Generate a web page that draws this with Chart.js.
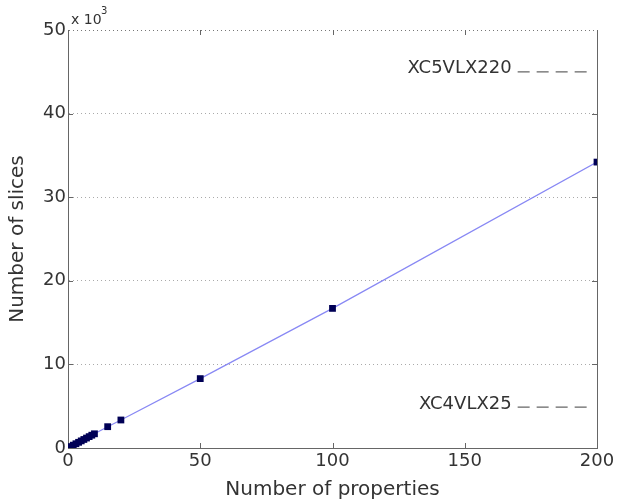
<!DOCTYPE html>
<html>
<head>
<meta charset="utf-8">
<script src="https://cdn.jsdelivr.net/npm/chart.js@4"></script>
<style>
  html, body { margin: 0; padding: 0; background: #fff; }
  #box { width: 618px; height: 502px; }
</style>
</head>
<body>
<div id="box"><canvas id="context"></canvas></div>
<script>
// values (slices in thousands)
const properties = [1, 2, 3, 4, 5, 6, 7, 8, 9, 10, 15, 20, 50, 100, 200];
const slices = [0.17, 0.34, 0.51, 0.68, 0.85, 1.02, 1.19, 1.36, 1.53, 1.70, 2.55, 3.35, 8.3, 16.7, 34.2];

const xTicks = [0, 50, 100, 150, 200];
const yTicks = [0, 10, 20, 30, 40, 50];

// device limits drawn as short dashed markers
const deviceNames = ['XC5VLX220', 'XC4VLX25'];
const deviceSlices = [45.0, 4.9];
const dashFrom = 170, dashTo = 197;

const font = "'DejaVu Sans', sans-serif";
const axisColor = '#666';
const textColor = '#333';

const datasets = [{
  data: properties.map((p, i) => ({x: p, y: slices[i]})),
  showLine: true,
  borderColor: '#8888f4',
  borderWidth: 1.2,
  pointStyle: 'rect',
  pointRadius: 4.8,
  pointBackgroundColor: '#000055',
  pointBorderColor: '#000055',
  pointBorderWidth: 0
}];
for (let i = 0; i < deviceNames.length; i++) {
  datasets.push({
    data: [{x: dashFrom, y: deviceSlices[i]}, {x: dashTo, y: deviceSlices[i]}],
    showLine: true,
    borderColor: '#666',
    borderWidth: 1.3,
    borderDash: [12, 7],
    pointRadius: 0
  });
}

const extras = {
  id: 'extras',
  afterDraw(chart) {
    const c = chart.ctx, a = chart.chartArea;
    const xs = chart.scales.x, ys = chart.scales.y;
    c.save();
    c.strokeStyle = axisColor;
    c.lineWidth = 1;
    // right border
    c.beginPath();
    c.moveTo(a.right + 0.5, a.top); c.lineTo(a.right + 0.5, a.bottom);
    c.stroke();
    // inward ticks
    c.beginPath();
    xTicks.slice(1, -1).forEach(t => {
      const px = Math.round(xs.getPixelForValue(t)) + 0.5;
      c.moveTo(px, a.bottom); c.lineTo(px, a.bottom - 5);
      c.moveTo(px, a.top); c.lineTo(px, a.top + 5);
    });
    yTicks.slice(1, -1).forEach(t => {
      const py = Math.round(ys.getPixelForValue(t)) + 0.5;
      c.moveTo(a.left, py); c.lineTo(a.left + 5, py);
      c.moveTo(a.right, py); c.lineTo(a.right - 5, py);
    });
    c.stroke();
    // device names
    c.fillStyle = textColor;
    c.font = '18px ' + font;
    c.textAlign = 'right';
    c.textBaseline = 'middle';
    deviceNames.forEach((n, i) => {
      c.fillText(n, xs.getPixelForValue(dashFrom) - 6, ys.getPixelForValue(deviceSlices[i]) - 3);
    });
    // exponent
    c.textAlign = 'left';
    c.textBaseline = 'alphabetic';
    c.font = '14px ' + font;
    c.fillText('x 10', a.left + 3, a.top - 6);
    c.font = '10px ' + font;
    c.fillText('3', a.left + 33, a.top - 16);
    c.restore();
  }
};

new Chart(document.getElementById('context'), {
  type: 'scatter',
  data: { datasets: datasets },
  options: {
    responsive: true,
    maintainAspectRatio: false,
    animation: false,
    layout: { padding: { top: 30, right: 21, left: 0, bottom: 0 } },
    plugins: { legend: { display: false }, tooltip: { enabled: false } },
    scales: {
      x: {
        type: 'linear',
        min: 0, max: 200,
        afterBuildTicks: s => { s.ticks = xTicks.map(v => ({value: v})); },
        afterFit: s => { s.height = 54; },
        grid: { drawOnChartArea: false, drawTicks: false },
        border: { color: axisColor, width: 1 },
        ticks: { color: textColor, font: { family: font, size: 18 }, padding: 3, maxRotation: 0 },
        title: { display: true, text: 'Number of properties', color: textColor,
                 font: { family: font, size: 20 }, padding: { top: 0, bottom: 0 } }
      },
      y: {
        type: 'linear',
        min: 0, max: 50,
        afterBuildTicks: s => { s.ticks = yTicks.map(v => ({value: v})); },
        afterFit: s => { s.width = 68; },
        grid: { color: ctx => (ctx.tick && ctx.tick.value === 50 ? '#777' : '#aaa'), drawTicks: false,
                lineWidth: ctx => (ctx.tick && ctx.tick.value === 0 ? 0 : 1) },
        border: { color: axisColor, width: 1, dash: [1, 3] },
        ticks: { color: textColor, font: { family: font, size: 18 }, padding: 2 },
        title: { display: true, text: 'Number of slices', color: textColor,
                 font: { family: font, size: 20 }, padding: { top: 6, bottom: 2 } }
      }
    }
  },
  plugins: [extras]
});
</script>
</body>
</html>
